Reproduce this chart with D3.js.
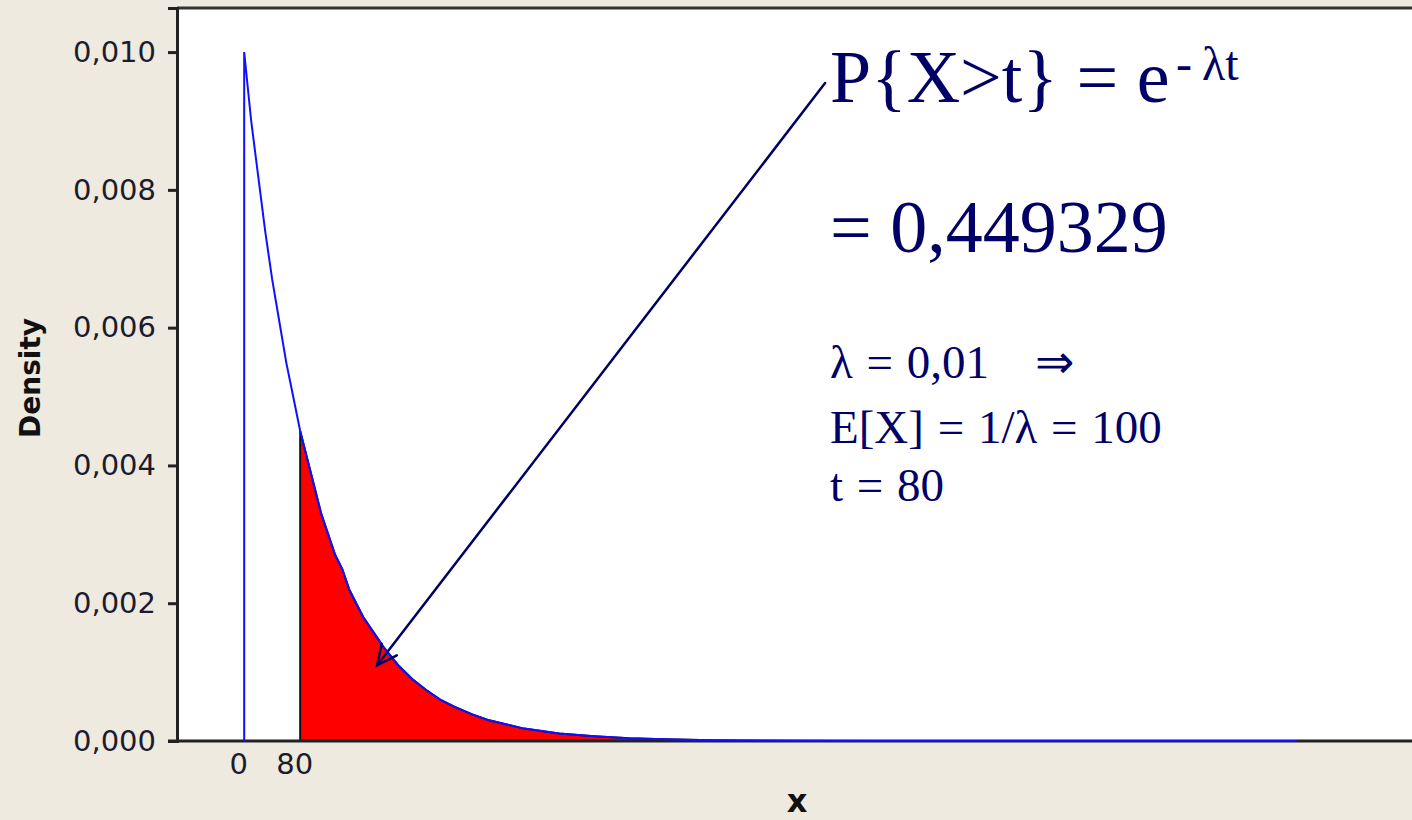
<!DOCTYPE html>
<html>
<head>
<meta charset="utf-8">
<script src="https://cdn.jsdelivr.net/npm/d3@7"></script>
<style>
  html, body { margin: 0; padding: 0; background: #eeeae0; }
  svg { display: block; }
</style>
</head>
<body>
<div id="chart"></div>
<script>
// density curve (x, f(x))
const xValues = [0, 0, 10, 20, 30, 40, 50, 60, 70, 80, 90, 100, 110, 120, 130, 140, 150, 160, 170, 180, 190, 200,
  220, 240, 260, 280, 300, 325, 350, 375, 400, 450, 500, 550, 600, 650, 700, 800, 900, 1504]
const densityValues = [0, 0.0100, 0.0090, 0.0082, 0.0074, 0.0067, 0.0061, 0.0055, 0.0050, 0.0045, 0.0041, 0.0037,
  0.0033, 0.0030, 0.0027, 0.0025, 0.0022, 0.0020, 0.0018, 0.00165, 0.0015, 0.00135,
  0.0011, 0.0009, 0.00074, 0.0006, 0.0005, 0.00039, 0.0003, 0.00024, 0.00018, 0.00011, 0.00007, 0.00004,
  0.000025, 0.000015, 0.00001, 0.000003, 0, 0]
const shadeFrom = 80
const shadeTo = 650
const yTicks = [0, 0.002, 0.004, 0.006, 0.008, 0.010]
const xTicks = [0, 80]
// arrow from the formula down into the shaded tail (data units)
const arrowFrom = {x: 830, y: 0.00955}
const arrowTo = {x: 190, y: 0.0011}

const width = 1412, height = 820
const navy = '#000066'
const tickFont = '"DejaVu Sans", Verdana, sans-serif'
const serif = '"Liberation Serif", "Times New Roman", serif'

const data = xValues.map((x, i) => ({x: x, y: densityValues[i]}))

const svg = d3.select('#chart').append('svg')
  .attr('width', width)
  .attr('height', height)
  .attr('viewBox', '0,0,' + width + ',' + height)

const x = d3.scaleLinear()
  .domain([-96, 1680])
  .range([177, 1420])

const y = d3.scaleLinear()
  .domain([0, 0.01064])
  .range([741, 8])

// plot area
svg.append('rect')
  .attr('x', x.range()[0])
  .attr('y', y.range()[1])
  .attr('width', x.range()[1] - x.range()[0])
  .attr('height', y.range()[0] - y.range()[1])
  .attr('fill', '#fff')

// shaded tail P{X>t}
const shade = data.filter(d => d.x >= shadeFrom && d.x <= shadeTo)
svg.append('path')
  .datum(shade)
  .attr('fill', '#ff0000')
  .attr('stroke', '#111')
  .attr('stroke-width', 2)
  .attr('d', d3.area()
    .x(d => x(d.x))
    .y0(y(0))
    .y1(d => y(d.y)))

// frame: top + left + bottom
svg.append('line')
  .attr('x1', x.range()[0]).attr('x2', width + 10)
  .attr('y1', y.range()[1]).attr('y2', y.range()[1])
  .attr('stroke', '#333').attr('stroke-width', 3)

const yAxis = g => g
  .attr('transform', `translate(${x.range()[0]},0)`)
  .call(d3.axisLeft(y)
    .tickValues(yTicks)
    .tickSize(9)
    .tickPadding(12)
    .tickFormat(d => d3.format('.3f')(d).replace('.', ',')))
  .call(g => g.select('.domain').attr('stroke', '#222').attr('stroke-width', 3))
  .call(g => g.selectAll('.tick line').attr('stroke', '#222').attr('stroke-width', 3))
  .call(g => g.selectAll('text')
    .attr('fill', '#1c1c2c')
    .style('font-family', tickFont)
    .style('font-size', '29px'))

const xAxis = g => g
  .attr('transform', `translate(0,${y(0)})`)
  .call(d3.axisBottom(x)
    .tickValues(xTicks)
    .tickSize(0)
    .tickPadding(12))
  .call(g => g.select('.domain').remove())
  .call(g => g.selectAll('text')
    .attr('dx', -6)
    .attr('fill', '#1c1c2c')
    .style('font-family', tickFont)
    .style('font-size', '29px'))

svg.append('g').call(yAxis)
svg.append('g').call(xAxis)

svg.append('line')
  .attr('x1', 168).attr('x2', width + 10)
  .attr('y1', y(0)).attr('y2', y(0))
  .attr('stroke', '#222').attr('stroke-width', 3)

// density curve
svg.append('path')
  .datum(data)
  .attr('fill', 'none')
  .attr('stroke', '#1010ff')
  .attr('stroke-width', 2)
  .attr('d', d3.line()
    .x(d => x(d.x))
    .y(d => y(d.y)))

// axis titles
svg.append('text')
  .attr('transform', 'translate(40,378) rotate(-90)')
  .attr('text-anchor', 'middle')
  .style('font-family', tickFont)
  .style('font-weight', 'bold')
  .style('font-size', '28px')
  .attr('fill', '#111')
  .text('Density')

svg.append('text')
  .attr('x', 797)
  .attr('y', 812)
  .attr('text-anchor', 'middle')
  .style('font-family', tickFont)
  .style('font-weight', 'bold')
  .style('font-size', '32px')
  .attr('fill', '#111')
  .text('x')

// arrow
const ax0 = x(arrowFrom.x), ay0 = y(arrowFrom.y)
const ax1 = x(arrowTo.x), ay1 = y(arrowTo.y)
const ang = Math.atan2(ay1 - ay0, ax1 - ax0)
const barb = 22, spread = 0.45
const arrow = svg.append('g')
  .attr('stroke', navy)
  .attr('stroke-width', 2.5)
  .attr('fill', 'none')
  .attr('stroke-linecap', 'round')
arrow.append('line')
  .attr('x1', ax0).attr('y1', ay0)
  .attr('x2', ax1).attr('y2', ay1)
arrow.append('path')
  .attr('d', d3.line()([
    [ax1 - barb * Math.cos(ang - spread), ay1 - barb * Math.sin(ang - spread)],
    [ax1, ay1],
    [ax1 - barb * Math.cos(ang + spread), ay1 - barb * Math.sin(ang + spread)]
  ]))

// formula text
const big = svg.append('text')
  .attr('x', 830)
  .attr('y', 102)
  .attr('fill', navy)
  .style('font-family', serif)
  .style('font-size', '74px')
big.append('tspan').text('P{X>t} = e')
big.append('tspan')
  .attr('x', 1176).attr('y', 80)
  .style('font-size', '48px')
  .text('-')
big.append('tspan')
  .attr('x', 1202).attr('y', 80)
  .style('font-size', '48px')
  .text('λt')

svg.append('text')
  .attr('x', 830)
  .attr('y', 252)
  .attr('fill', navy)
  .style('font-family', serif)
  .style('font-size', '74px')
  .text('= 0,449329')

const small = svg.append('g')
  .attr('fill', navy)
  .style('font-family', serif)
  .style('font-size', '47px')
  .style('word-spacing', '2px')

const l1 = small.append('text').attr('x', 830).attr('y', 378)
l1.append('tspan').text('λ = 0,01')
l1.append('tspan').attr('x', 1035).text('⇒')
small.append('text').attr('x', 830).attr('y', 443).text('E[X] = 1/λ = 100')
small.append('text').attr('x', 830).attr('y', 501).text('t = 80')
</script>
</body>
</html>
